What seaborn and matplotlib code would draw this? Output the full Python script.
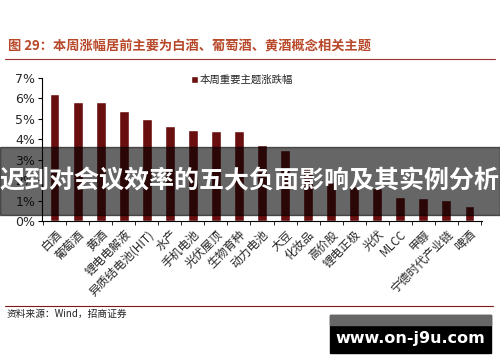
import seaborn as sns
import matplotlib.pyplot as plt
import pandas as pd
from matplotlib.patches import Rectangle
from matplotlib.ticker import FixedLocator

themes = ['白酒', '葡萄酒', '黄酒', '锂电电解液', '异质结电池(HIT)', '水产', '手机电池',
          '光伏屋顶', '生物育种', '动力电池', '大豆', '化妆品', '高价股', '锂电正极',
          '光伏', 'MLCC', '甲醇', '宁德时代产业链', '啤酒']
changes = [6.2, 5.85, 5.85, 5.4, 5.0, 4.63, 4.45, 4.39, 4.39, 3.72, 3.46, 2.58,
           1.9, 1.7, 1.6, 1.19, 1.13, 1.02, 0.75]
yticks = [0, 1, 2, 3, 4, 5, 6, 7]

title = '图 29：本周涨幅居前主要为白酒、葡萄酒、黄酒概念相关主题'
legend_label = '本周重要主题涨跌幅'
source = '资料来源：Wind，招商证券'
banner = '迟到对会议效率的五大负面影响及其实例分析'
site = 'www.on-j9u.com'

sns.set_style('white')
plt.rcParams['font.family'] = ['Noto Sans CJK SC', 'DejaVu Sans']

df = pd.DataFrame({'theme': themes, 'change': changes})

fig = plt.figure(figsize=(5, 3.62), dpi=100)
ax = fig.add_axes([0.084, 0.3895, 0.88, 0.395])
sns.barplot(data=df, x='theme', y='change', color='#6a0f0f', width=0.4,
            saturation=1, label=legend_label, ax=ax)

ax.set_xlim(-0.56, len(themes) - 0.44)
ax.set_ylim(0, 7)
ax.set_yticks(yticks)
ax.set_yticklabels([f'{v}%' for v in yticks], family='DejaVu Sans', fontsize=9)
ax.set_xlabel('')
ax.set_ylabel('')
ax.set_xticks(range(len(themes)))
ax.set_xticklabels(themes, rotation=45, ha='right', rotation_mode='anchor', fontsize=8.5)
ax.xaxis.set_minor_locator(FixedLocator([i - 0.5 for i in range(len(themes) + 1)]))
ax.tick_params(axis='x', which='major', length=0, pad=5)
ax.tick_params(axis='x', which='minor', length=3, direction='out', color='black', bottom=True)
ax.tick_params(axis='y', length=3, direction='out', color='black', left=True, pad=2)
for s in ['top', 'right']:
    ax.spines[s].set_visible(False)
for s in ['left', 'bottom']:
    ax.spines[s].set_color('black')
    ax.spines[s].set_linewidth(0.8)

ax.legend(loc='upper left', bbox_to_anchor=(0.33, 1.05), frameon=False, fontsize=7.5,
          handlelength=0.6, handleheight=0.6, handletextpad=0.2, borderaxespad=0)

fig.text(0.016, 0.875, title, fontsize=9.5, fontweight='bold', color='#b8482a', va='center')
fig.add_artist(plt.Line2D([0.01, 0.99], [0.837, 0.837], color='#9a3030', lw=0.8))
fig.add_artist(plt.Line2D([0.01, 0.986], [0.155, 0.155], color='#7a1a1a', lw=0.8))
fig.text(0.014, 0.133, source, fontsize=7, va='center', color='#222222')

# overlay banner
fig.add_artist(Rectangle((0, 1 - 215 / 362), 1, 68 / 362, transform=fig.transFigure,
                         color='black', alpha=0.6, zorder=10))
fig.text(0.5, 1 - 181 / 362, banner, fontsize=18, fontweight='bold', color='white',
         ha='center', va='center', zorder=11)

# site box
fig.add_artist(Rectangle((330 / 500, 1 - 353 / 362), 161 / 500, 38 / 362,
                         transform=fig.transFigure, color='black', zorder=10))
fig.add_artist(Rectangle((330 / 500, 1 - 325 / 362), 161 / 500, 10 / 362,
                         transform=fig.transFigure, color='#666666', zorder=10))
fig.text(410 / 500, 1 - 339 / 362, site, fontsize=11.5, fontweight='bold', color='white',
         family='DejaVu Sans', ha='center', va='center', zorder=11)

fig.savefig('out.png', dpi=100)
